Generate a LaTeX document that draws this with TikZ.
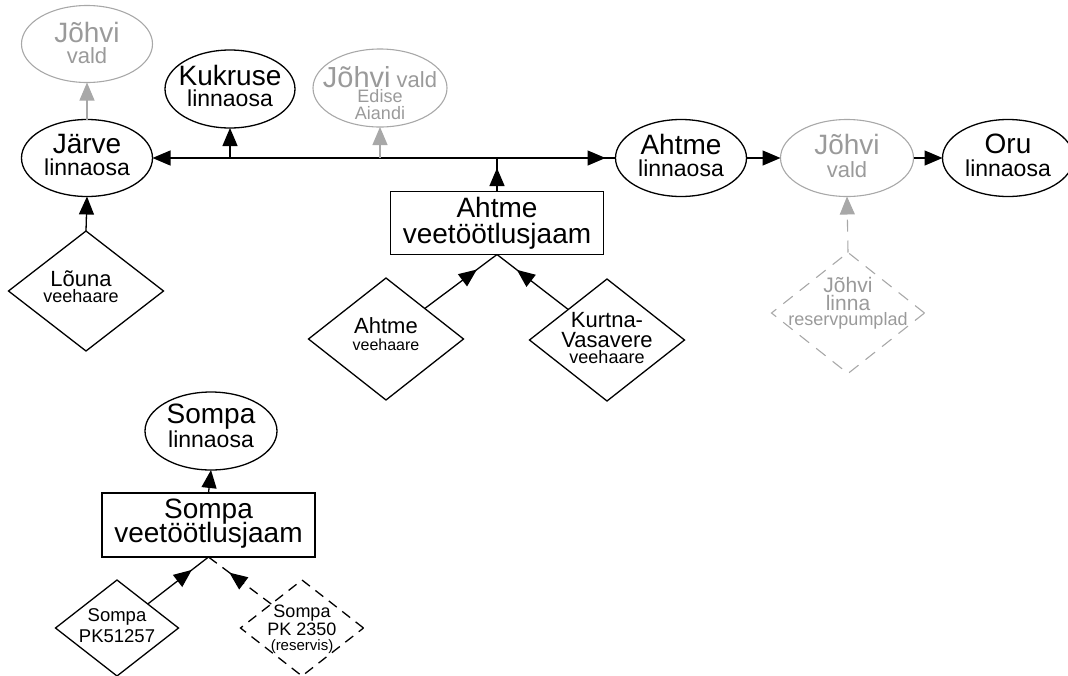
\documentclass[tikz,border=0pt]{standalone}
\usepackage{fontspec}
\setmainfont{Liberation Sans}
\usetikzlibrary{shapes.geometric,arrows.meta,decorations.markings}
\definecolor{fadedtext}{HTML}{9A9A9A}
\definecolor{fadedline}{HTML}{A8A8A8}
% one text line, centred on the node centre, raised by #1, set at size #2
\newcommand\tx[3]{\raisebox{#1}[0pt][0pt]{\makebox[0pt]{\fontsize{#2}{#2}\selectfont #3}}}

\begin{document}
\begin{tikzpicture}[x=1pt,y=-1pt,
  line width=1.3pt,
  >={Triangle[length=18pt,width=15pt]},
  base/.style={inner sep=0pt, outer sep=0pt},
  area/.style={base, draw, ellipse, minimum width=131pt, minimum height=77pt},
  farea/.style={area, draw=fadedline, text=fadedtext, line width=1.1pt},
  plant/.style={base, draw, rectangle, minimum width=213pt, minimum height=63pt},
  source/.style={base, draw, diamond, minimum width=155pt, minimum height=122pt},
  small source/.style={source, minimum width=123pt, minimum height=96pt},
  dashline/.style={dash pattern=on 10pt off 7pt},
  fdashline/.style={dash pattern=on 12pt off 9pt},
  midtip/.style={postaction={decorate},
    decoration={markings, mark=at position #1 with {\arrow{>}}}},
]
\useasboundingbox (0,0) rectangle (1068,675);

% districts and neighbouring areas
\node[farea] (jvN) at (87,44) {\tx{2pt}{28}{Jõhvi}\tx{-19pt}{22}{vald}};
\node[area] (jarve) at (87,158) {\tx{5pt}{28}{Järve}\tx{-17pt}{23}{linnaosa}};
\node[area, minimum width=130pt, minimum height=78pt] (kukruse) at (230,89) {\tx{4pt}{28}{Kukruse}\tx{-17pt}{23}{linnaosa}};
\node[farea, minimum width=134pt, minimum height=78pt] (edise) at (380,88) {\tx{1pt}{29}{Jõhvi{\fontsize{22}{22}\selectfont\ vald}}\tx{-14pt}{18}{Edise}\tx{-31pt}{18}{Aiandi}};
\node[area] (ahtmeL) at (681,158) {\tx{4pt}{28}{Ahtme}\tx{-18pt}{23}{linnaosa}};
\node[farea, minimum width=133pt] (jvE) at (847,158) {\tx{4pt}{28}{Jõhvi}\tx{-19pt}{22}{vald}};
\node[area] (oru) at (1008,158) {\tx{5pt}{28}{Oru}\tx{-18pt}{23}{linnaosa}};
\node[area, minimum width=132pt, minimum height=78pt] (sompaL) at (211,431) {\tx{8pt}{28}{Sompa}\tx{-16pt}{23}{linnaosa}};

% treatment plants
\node[plant] (ahtmeP) at (497,223) {\tx{6pt}{28}{Ahtme}\tx{-20pt}{28}{veetöötlusjaam}};
\node[plant, minimum height=64pt] (sompaP) at (208.5,525) {\tx{7pt}{28}{Sompa}\tx{-17pt}{28}{veetöötlusjaam}};

% water sources
\node[source, minimum height=120pt] (louna) at (86,291) {\tx{5pt}{22}{\hspace*{-10pt}Lõuna}\tx{-11pt}{18}{\hspace*{-10pt}veehaare}};
\node[source] (ahtmeS) at (386,339) {\tx{6pt}{22}{Ahtme}\tx{-11pt}{16}{veehaare}};
\node[source] (kurtna) at (607,340) {\tx{13pt}{22}{Kurtna-}\tx{-7pt}{22}{Vasavere}\tx{-23pt}{18}{veehaare}};
\node[source, draw=fadedline, text=fadedtext, fdashline, line width=1.1pt, minimum width=153pt, minimum height=121pt] (jvR) at (848,313) {\tx{21pt}{21}{Jõhvi}\tx{3pt}{21}{linna}\tx{-12pt}{18}{reservpumplad}};
\node[small source] (pk1) at (117,628) {\tx{7pt}{18.5}{Sompa}\tx{-14pt}{18.5}{PK51257}};
\node[small source, dashline] (pk2) at (302,628) {\tx{11pt}{18}{Sompa}\tx{-7pt}{18}{PK 2350}\tx{-22pt}{15}{(reservis)}};

% junctions on the main line
\coordinate (jK) at (kukruse.south |- jarve.east);
\coordinate (jE) at (edise.south |- jarve.east);
\coordinate (jA) at (ahtmeP.north |- jarve.east);

% connectors
\draw[<-, midtip=-10pt] (jarve.east) -- (ahtmeL.west);
\draw[->] (jK) -- (kukruse.south);
\draw[->, fadedline, line width=1.1pt] (jE) -- (edise.south);
\draw[midtip=-10pt] (ahtmeP.north) -- (jA);
\draw[->, fadedline, line width=1.1pt] (jarve.north) -- (jvN.south);
\draw[->] (ahtmeL.east) -- (jvE.west);
\draw[->] (jvE.east) -- (oru.west);
\draw[->, fadedline, line width=1.1pt, fdashline] (jvR.north) -- (jvE.south);
\draw[->] (louna.north) -- (jarve.south);
\draw[midtip=-25pt] (ahtmeS.north east) -- (ahtmeP.south);
\draw[midtip=-25pt] (kurtna.north west) -- (ahtmeP.south);
\draw[->] (sompaP.north) -- (sompaL.south);
\draw[midtip=-21pt] (pk1.north east) -- (sompaP.south);
\draw[midtip=-26pt, dashline] (pk2.north west) -- (sompaP.south);
\end{tikzpicture}
\end{document}
